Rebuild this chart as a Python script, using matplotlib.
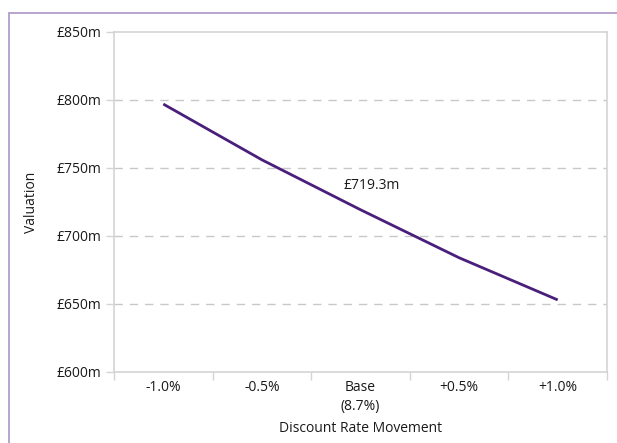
import matplotlib.pyplot as plt
from matplotlib.patches import Rectangle
from matplotlib.ticker import FuncFormatter

plt.rcParams['font.family'] = ['Open Sans', 'DejaVu Sans']

# discount rate sensitivity of the portfolio valuation (GBP m)
movements = ['-1.0%', '-0.5%', 'Base\n(8.7%)', '+0.5%', '+1.0%']
valuation = [797.0, 756.0, 719.3, 684.0, 653.0]
base_idx = 2

line_col = '#4a1f7c'
frame_col = '#b39dc9'
grey = '#d4d4d4'
text_col = '#1a1a1a'
fs = 10

fig = plt.figure(figsize=(6.17, 4.43), dpi=100)
ax = fig.add_axes([0.1848, 0.1603, 0.799, 0.7675])

# outer frame round the chart
fig.patches.append(Rectangle((9 / 617, -0.05), 1.2, 1 - 13 / 443 + 0.05,
                             transform=fig.transFigure, fill=False,
                             edgecolor=frame_col, linewidth=1.3))

x = list(range(len(movements)))
ax.plot(x, valuation, color=line_col, linewidth=2.0, solid_capstyle='butt')
ax.annotate('£%.1fm' % valuation[base_idx], (x[base_idx], valuation[base_idx]),
            xytext=(8, 15), textcoords='offset points', ha='center',
            fontsize=fs, color=text_col)

ax.set_xlim(-0.5, len(movements) - 0.5)
ax.set_ylim(600, 850)
ax.set_yticks([600, 650, 700, 750, 800, 850])
ax.yaxis.set_major_formatter(FuncFormatter(lambda v, p: '£%dm' % v))
ax.set_xticks(x)
ax.set_xticklabels(movements, linespacing=1.35)
ax.set_xticks([i - 0.5 for i in range(len(movements) + 1)], minor=True)
ax.tick_params(axis='x', which='major', length=0, pad=6, labelsize=fs,
               colors=text_col)
ax.tick_params(axis='x', which='minor', length=6, color=grey, width=1)
ax.tick_params(axis='y', length=6, color=grey, width=1, labelsize=fs, pad=3)
ax.tick_params(axis='y', colors=grey, labelcolor=text_col)

for v in [650, 700, 750, 800]:
    ax.axhline(v, color='#c8c8c8', linewidth=1, linestyle=(0, (6, 5)), zorder=0)

for s in ax.spines.values():
    s.set_color(grey)
    s.set_linewidth(1.2)

ax.set_ylabel('Valuation', fontsize=fs, color=text_col, labelpad=13)
ax.set_xlabel('Discount Rate Movement', fontsize=fs, color=text_col, labelpad=5)

fig.savefig('out.png', dpi=100)
